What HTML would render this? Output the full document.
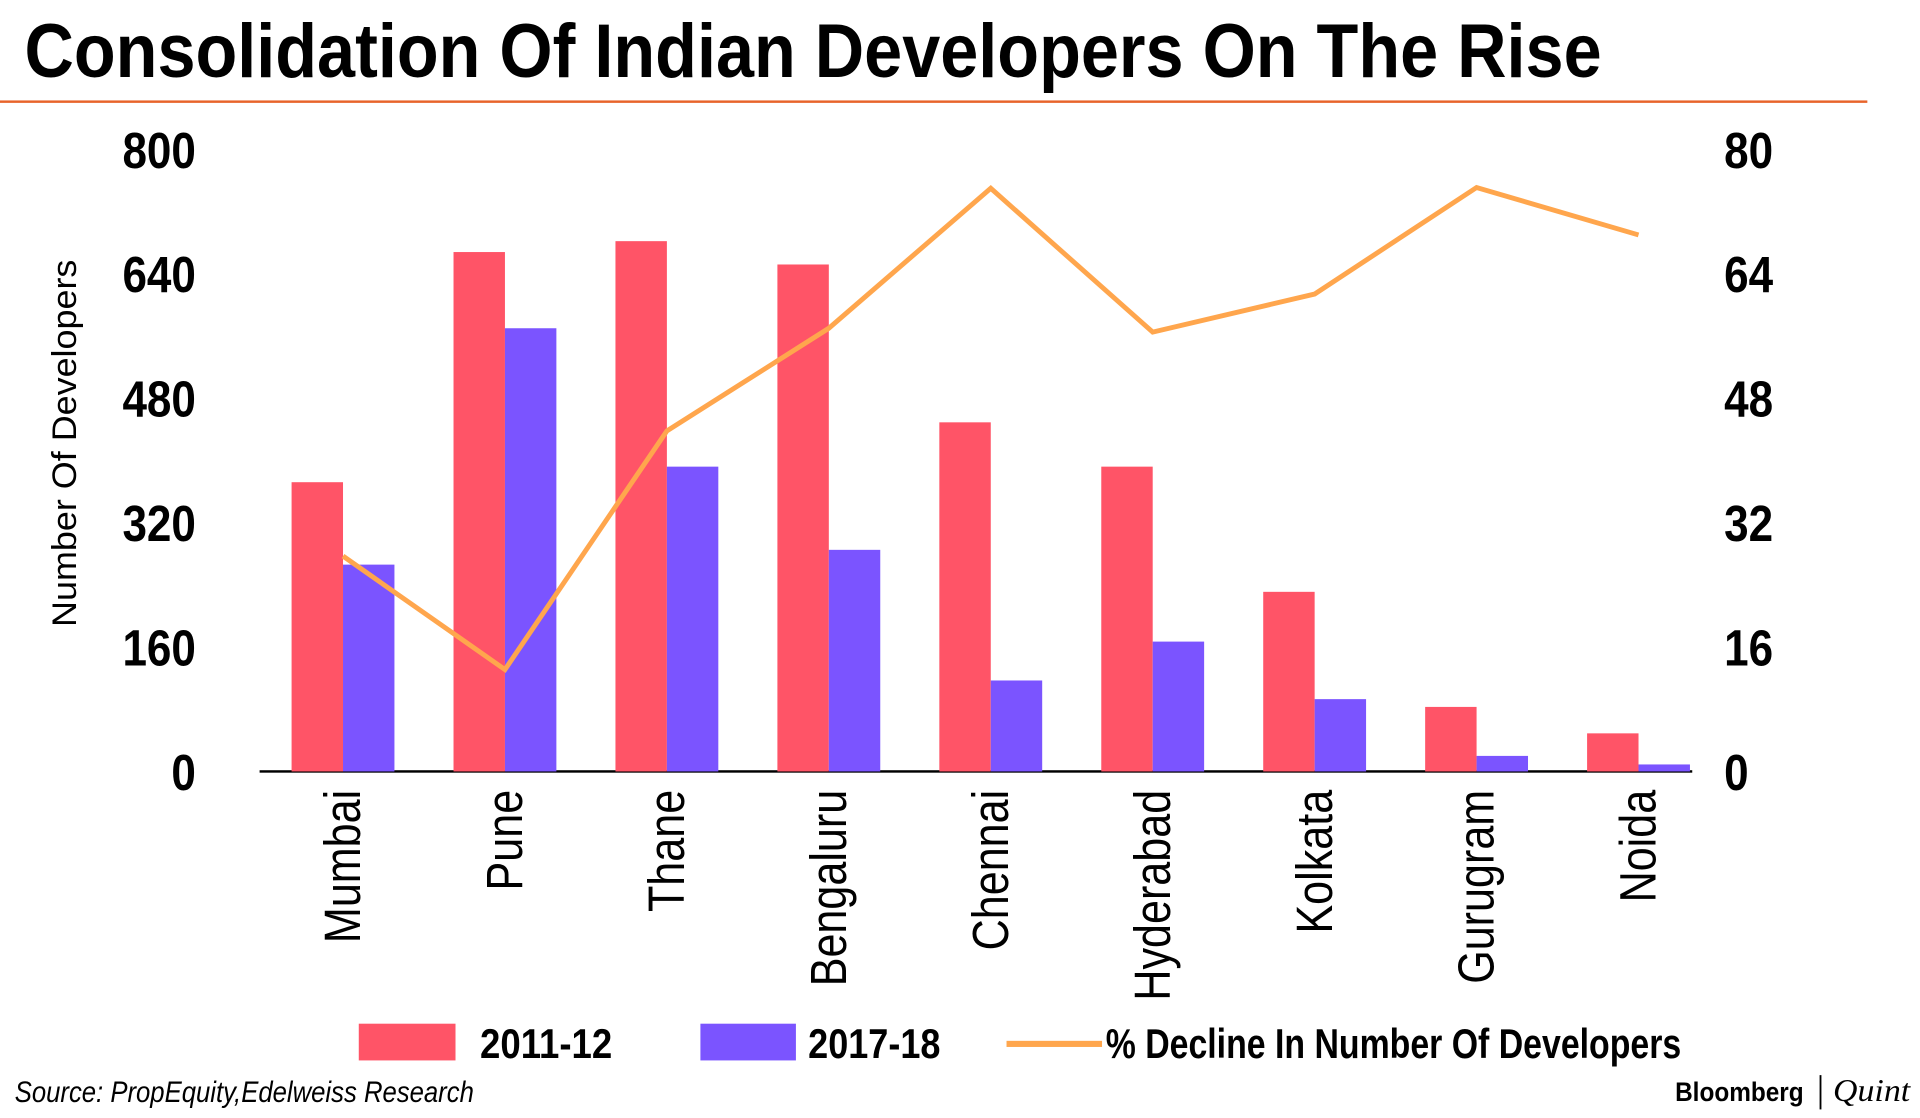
<!DOCTYPE html>
<html><head><meta charset="utf-8">
<style>html,body{margin:0;padding:0;background:#fff;}svg{display:block;}</style>
</head><body>
<svg id="chart" width="1920" height="1118" viewBox="0 0 1568 913" xmlns="http://www.w3.org/2000/svg" font-family="'Liberation Sans', sans-serif">
<text x="20" y="63" font-size="62" font-weight="bold" textLength="1288" lengthAdjust="spacingAndGlyphs">Consolidation Of Indian Developers On The Rise</text>
<rect x="0" y="82" width="1525" height="2" fill="#e8642a"/>
<g id="axes"></g>
<g id="bars"></g>
<g id="line"></g>
<text transform="translate(62,362) rotate(-90)" text-anchor="middle" font-size="28" textLength="300" lengthAdjust="spacingAndGlyphs">Number Of Developers</text>
<g>
<rect x="293" y="836" width="79" height="30" fill="#ff5467"/>
<text x="392" y="864" font-size="34" font-weight="bold" textLength="108" lengthAdjust="spacingAndGlyphs">2011-12</text>
<rect x="572" y="836" width="78" height="30" fill="#7b54ff"/>
<text x="660" y="864" font-size="34" font-weight="bold" textLength="108" lengthAdjust="spacingAndGlyphs">2017-18</text>
<rect x="822" y="850" width="78" height="5" fill="#ffa64d"/>
<text x="903" y="864" font-size="34" font-weight="bold" textLength="470" lengthAdjust="spacingAndGlyphs">% Decline In Number Of Developers</text>
</g>
<text x="12" y="900" font-size="24" font-style="italic" textLength="375" lengthAdjust="spacingAndGlyphs">Source: PropEquity,Edelweiss Research</text>
<text x="1368" y="899" font-size="22" font-weight="bold" textLength="105" lengthAdjust="spacingAndGlyphs">Bloomberg</text>
<rect x="1486" y="878" width="1.5" height="28" fill="#000"/>
<text x="1497" y="899" font-size="26" font-style="italic" font-family="'Liberation Serif', serif" textLength="63" lengthAdjust="spacingAndGlyphs">Quint</text>
</svg>
<script>
const categories = ["Mumbai","Pune","Thane","Bengaluru","Chennai","Hyderabad","Kolkata","Gurugram","Noida"];
const series2011 = [372,668,682,652,449,392,231,83,49];
const series2017 = [266,570,392,285,117,167,93,20,9];
const declinePct = [27.7,13.1,43.8,57,75,56.5,61.4,75.1,69];
const leftTicks = [0,160,320,480,640,800];
const rightTicks = [0,16,32,48,64,80];

const NS="http://www.w3.org/2000/svg";
const y0=630, y1=122, x0=214, step=132.25, bw=42;
const yL=v=>y0-(v/800)*(y0-y1);
const yR=v=>y0-(v/80)*(y0-y1);
const xc=i=>x0+step*(i+0.5);
function mk(tag,attrs,parent){const e=document.createElementNS(NS,tag);for(const k in attrs)e.setAttribute(k,attrs[k]);parent.appendChild(e);return e;}
const axes=document.getElementById('axes'),bars=document.getElementById('bars'),line=document.getElementById('line');

leftTicks.forEach(v=>{const t=mk('text',{x:160,y:yL(v)+15,'text-anchor':'end','font-size':'42','font-weight':'bold',textLength:String(v).length*20,lengthAdjust:'spacingAndGlyphs'},axes);


t.textContent=v;});
rightTicks.forEach(v=>{const t=mk('text',{x:1408,y:yR(v)+15,'font-size':'42','font-weight':'bold',textLength:String(v).length*20,lengthAdjust:'spacingAndGlyphs'},axes);


t.textContent=v;});

categories.forEach((c,i)=>{
 const r=mk('rect',{x:xc(i)-bw,y:yL(series2011[i]),width:bw,height:y0-yL(series2011[i]),fill:'#ff5467'},bars);
 
 
 const b=mk('rect',{x:xc(i),y:yL(series2017[i]),width:bw,height:y0-yL(series2017[i]),fill:'#7b54ff'},bars);
 
 
 const t=mk('text',{transform:`translate(${xc(i)+14},645) rotate(-90) scale(0.88,1.05)`,'text-anchor':'end','font-size':'40'},axes);
 
 
 t.textContent=c;
});
const ax=mk('rect',{x:212,y:y0-1,width:1170,height:2,fill:'#000'},axes);



const pts=declinePct.map((v,i)=>xc(i)+','+yR(v)).join(' ');
const pl=mk('polyline',{points:pts,fill:'none',stroke:'#ffa64d','stroke-width':4,'stroke-linejoin':'miter'},line);


</script>
</body></html>
